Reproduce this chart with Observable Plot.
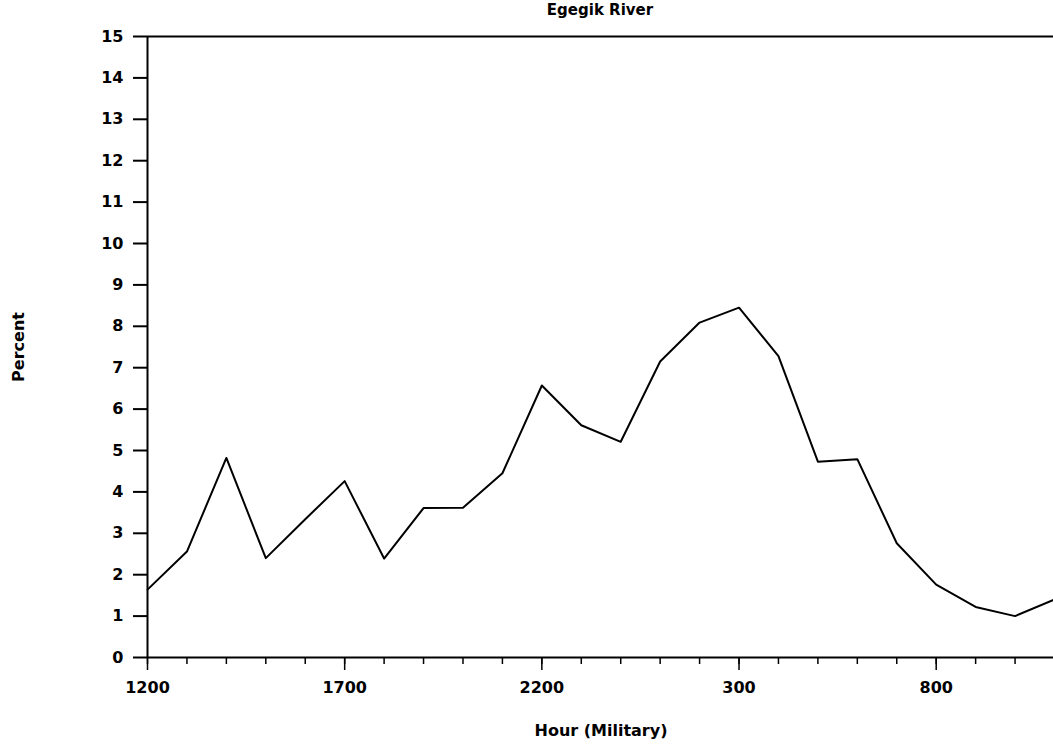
<!DOCTYPE html>
<html>
<head>
<meta charset="utf-8">
<script src="https://cdn.jsdelivr.net/npm/d3@7"></script>
<script src="https://cdn.jsdelivr.net/npm/@observablehq/plot@0.6"></script>
<style>
  html, body { margin: 0; padding: 0; background: #fff; }
  #title { position: relative; height: 24px; width: 1053px; font-family: "DejaVu Sans", sans-serif; font-weight: 700; font-size: 15px; color: #000; }
  #title span { position: absolute; left: 600px; top: 1px; transform: translateX(-50%); white-space: nowrap; }
</style>
</head>
<body>
<div id="title"><span>Egegik River</span></div>
<div id="chart"></div>
<script>
const hours = ["1200","1300","1400","1500","1600","1700","1800","1900","2000","2100","2200","2300",
               "0","100","200","300","400","500","600","700","800","900","1000","1100"];
const percent = [1.64, 2.56, 4.82, 2.40, 3.34, 4.26, 2.39, 3.61, 3.62, 4.45, 6.57, 5.61,
                 5.21, 7.15, 8.09, 8.45, 7.28, 4.73, 4.79, 2.76, 1.76, 1.22, 1.00, 1.40];
const majorHours = ["1200","1700","2200","300","800"];
const yTicks = [0,1,2,3,4,5,6,7,8,9,10,11,12,13,14,15];
const xTitle = "Hour (Military)";
const yTitle = "Percent";

const data = hours.map((h, i) => ({hour: h, value: percent[i]}));
const font = "'DejaVu Sans', sans-serif";

const chart = Plot.plot({
  width: 1053,
  height: 723,
  marginTop: 12,
  marginBottom: 90,
  marginLeft: 147,
  marginRight: -1,
  style: {fontFamily: font, fontSize: "16px", fontWeight: 700, color: "#000", background: "#fff"},
  x: {type: "point", domain: hours, padding: 0, round: false},
  y: {domain: [0, 15]},
  marks: [
    Plot.axisX({ticks: hours, tickSize: 7, tickFormat: () => "", strokeWidth: 1.5, label: null}),
    Plot.axisX({ticks: majorHours, tickSize: 13, tickPadding: 11, strokeWidth: 1.5, label: null}),
    Plot.axisY({ticks: yTicks, tickSize: 14, tickPadding: 10, strokeWidth: 2, label: null}),
    Plot.ruleY([0, 15], {strokeWidth: 2}),
    Plot.ruleX([hours[0]], {strokeWidth: 2}),
    Plot.line(data, {x: "hour", y: "value", stroke: "#000", strokeWidth: 2}),
    Plot.text([xTitle], {frameAnchor: "bottom", text: d => d, dy: 78, fontSize: 16, fontWeight: 700}),
    Plot.text([yTitle], {frameAnchor: "left", textAnchor: "middle", text: d => d, dx: -129, rotate: -90, fontSize: 16, fontWeight: 700, letterSpacing: "1.5px"})
  ]
});
document.getElementById("chart").appendChild(chart);
</script>
</body>
</html>
